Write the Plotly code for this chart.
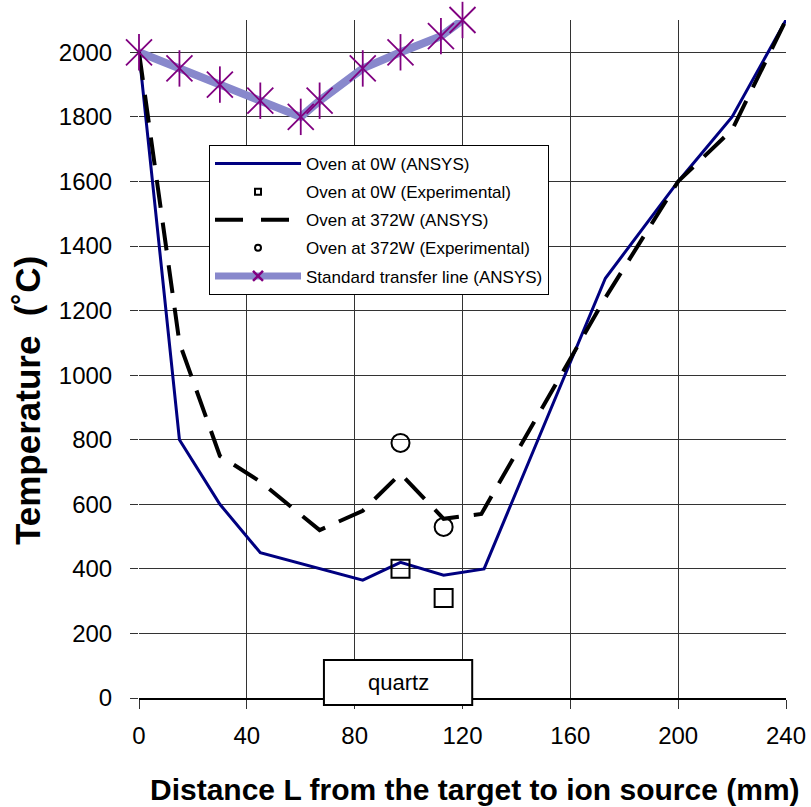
import plotly.graph_objects as go

# ---- data ----
x_0w = [0, 15, 30, 45, 83, 97, 113, 128, 173, 200, 220, 240]
y_0w = [2000, 800, 600, 450, 365, 420, 380, 400, 1300, 1600, 1800, 2100]

x_372 = [0, 15, 30, 45, 67, 83, 97, 113, 127, 173, 200, 220, 240]
y_372 = [2000, 1100, 750, 670, 520, 580, 695, 555, 570, 1240, 1600, 1760, 2100]

x_exp = [97, 113]
y_exp_0w = [400, 310]
y_exp_372 = [790, 530]

x_std = [0, 15, 30, 45, 60, 67, 83, 97, 112, 120]
y_std = [2000, 1950, 1900, 1850, 1800, 1850, 1950, 2000, 2050, 2100]

x_ticks = [0, 40, 80, 120, 160, 200, 240]
y_ticks = [0, 200, 400, 600, 800, 1000, 1200, 1400, 1600, 1800, 2000]

FONT = "Arial, Liberation Sans, sans-serif"
NAVY = "#000080"
PERI = "rgb(136,136,204)"
PURPLE = "#800080"

# plot area in pixels
W, H = 811, 807
L, R, T, B = 139, 25, 20, 109
PW, PH = W - L - R, H - T - B

fig = go.Figure()

# plotted traces (hidden from legend)
fig.add_trace(go.Scatter(x=x_std, y=y_std, mode="lines",
                         line=dict(color=PERI, width=8), showlegend=False,
                         cliponaxis=False))
fig.add_trace(go.Scatter(x=x_0w, y=y_0w, mode="lines",
                         line=dict(color=NAVY, width=3), showlegend=False))
fig.add_trace(go.Scatter(x=x_372, y=y_372, mode="lines",
                         line=dict(color="black", width=4, dash="28px,15px"),
                         showlegend=False))
fig.add_trace(go.Scatter(x=x_exp, y=y_exp_0w, mode="markers",
                         marker=dict(symbol="square-open", size=18, color="black",
                                     line=dict(width=2)), showlegend=False))
fig.add_trace(go.Scatter(x=x_exp, y=y_exp_372, mode="markers",
                         marker=dict(symbol="circle-open", size=18, color="black",
                                     line=dict(width=2)), showlegend=False))
for sym in ["x-thin-open", "line-ns-open"]:
    fig.add_trace(go.Scatter(x=x_std, y=y_std, mode="markers",
                             marker=dict(symbol=sym, size=26, color=PURPLE,
                                         line=dict(width=1.8, color=PURPLE)),
                             showlegend=False, cliponaxis=False))

# legend-only entries
fig.add_trace(go.Scatter(x=[None], y=[None], mode="lines", name="Oven at 0W (ANSYS)",
                         legendgroup="g1", line=dict(color=NAVY, width=3)))
fig.add_trace(go.Scatter(x=[None], y=[None], mode="markers", name="Oven at 0W (Experimental)",
                         legendgroup="g2",
                         marker=dict(symbol="square-open", size=6, color="black",
                                     line=dict(width=2))))
fig.add_trace(go.Scatter(x=[None], y=[None], mode="lines", name="Oven at 372W (ANSYS)",
                         legendgroup="g3",
                         line=dict(color="black", width=4, dash="28px,18px")))
fig.add_trace(go.Scatter(x=[None], y=[None], mode="markers", name="Oven at 372W (Experimental)",
                         legendgroup="g4",
                         marker=dict(symbol="circle-open", size=6, color="black",
                                     line=dict(width=2))))
fig.add_trace(go.Scatter(x=[None], y=[None], mode="lines+markers",
                         name="Standard transfer line (ANSYS)", legendgroup="g5",
                         line=dict(color=PERI, width=7),
                         marker=dict(symbol="x-thin-open", size=10, color=PURPLE,
                                     line=dict(width=2.5, color=PURPLE))))

# quartz label box
fig.add_shape(type="rect", xref="x", yref="paper", x0=68.6, x1=123.6,
              y0=-7 / PH, y1=38 / PH, line=dict(color="black", width=2),
              fillcolor="white", layer="above")
fig.add_annotation(x=96.1, y=15.5 / PH, xref="x", yref="paper", text="quartz",
                   showarrow=False, xanchor="center", yanchor="middle",
                   font=dict(family=FONT, size=22, color="black"))

# axis titles
fig.add_annotation(x=(475 - L) / PW, y=(H - B - 790) / PH, xref="paper", yref="paper",
                   text="<b>Distance L from the target to ion source (mm)</b>",
                   showarrow=False, xanchor="center", yanchor="middle",
                   font=dict(family=FONT, size=30, color="black"))
fig.add_annotation(x=(27 - L) / PW, y=(H - B - 401) / PH, xref="paper", yref="paper",
                   text="<b>Temperature  (˚C)</b>", textangle=-90,
                   showarrow=False, xanchor="center", yanchor="middle",
                   font=dict(family=FONT, size=35, color="black"))

fig.update_layout(
    width=W, height=H,
    margin=dict(l=L, r=R, t=T, b=B),
    paper_bgcolor="white", plot_bgcolor="white",
    font=dict(family=FONT, color="black"),
    showlegend=True,
    legend=dict(x=(209 - L) / PW, y=(H - B - 145) / PH, xanchor="left", yanchor="top",
                bgcolor="white", bordercolor="black", borderwidth=1,
                font=dict(family=FONT, size=17, color="black"),
                itemwidth=86, tracegroupgap=3, traceorder="grouped"),
    xaxis=dict(range=[0, 240], tickvals=x_ticks, ticktext=[str(v) for v in x_ticks],
               showgrid=True, gridcolor="#333", gridwidth=1, zeroline=False,
               showline=True, linecolor="black", linewidth=1.5,
               ticks="outside", ticklen=9, tickcolor="#333",
               ticklabelstandoff=6, automargin=False,
               tickfont=dict(family=FONT, size=24)),
    yaxis=dict(range=[0, 2100], tickvals=y_ticks, ticktext=[str(v) for v in y_ticks],
               showgrid=True, gridcolor="#333", gridwidth=1, zeroline=False,
               showline=False,
               ticks="outside", ticklen=8, tickcolor="#333",
               ticklabelstandoff=13, automargin=False,
               tickfont=dict(family=FONT, size=24)),
)

fig.write_html("out.html")
